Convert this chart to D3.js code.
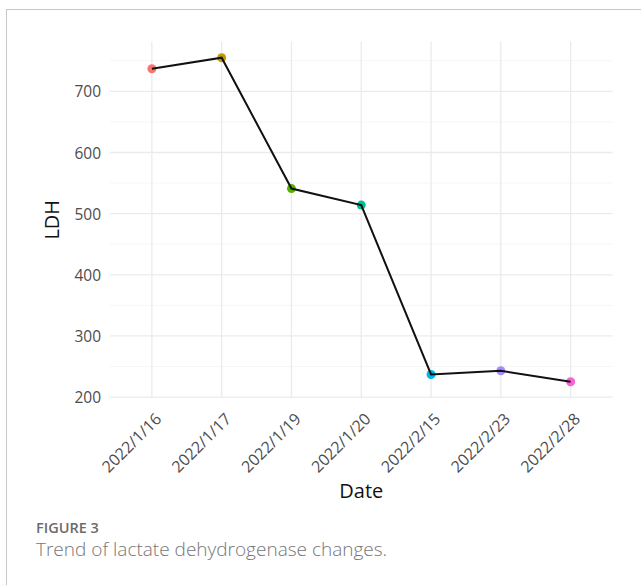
<!DOCTYPE html>
<html><head><meta charset="utf-8">
<script src="https://cdn.jsdelivr.net/npm/d3@7"></script>
<style>
html,body{margin:0;padding:0;background:#fff;}
svg{display:block;font-family:"Open Sans",sans-serif;}
</style></head>
<body>
<script>
const dates = ["2022/1/16","2022/1/17","2022/1/19","2022/1/20","2022/2/15","2022/2/23","2022/2/28"];
const ldh = [737, 755, 541, 514, 237, 243, 225];
const pointColors = ["#F8766D","#C49A00","#53B400","#00C094","#00B6EB","#A58AFF","#FB61D7"];
const yTicks = [200, 300, 400, 500, 600, 700];
const yMinor = [250, 350, 450, 550, 650, 750];

(function () {
const W = 641, H = 585;
const svg = d3.select("body").append("svg").attr("width", W).attr("height", H);

// frame
svg.append("line").attr("x1",7).attr("x2",W).attr("y1",9.5).attr("y2",9.5).attr("stroke","#c8c8c8").attr("stroke-width",1);
svg.append("line").attr("x1",6.5).attr("x2",6.5).attr("y1",9).attr("y2",H).attr("stroke","#c8c8c8").attr("stroke-width",1);

const pLeft = 110, pRight = 612.5, pTop = 41.5, pBottom = 398;
const dmin = d3.min(ldh), dmax = d3.max(ldh), pad = (dmax - dmin) * 0.05;
const y = d3.scaleLinear().domain([dmin - pad, dmax + pad]).range([pBottom, pTop]);
const x = d3.scalePoint().domain(dates).range([pLeft, pRight]).padding(0.6);

const g = svg.append("g");
g.selectAll(".minor").data(yMinor).join("line")
  .attr("x1", pLeft).attr("x2", pRight)
  .attr("y1", d => y(d)).attr("y2", d => y(d))
  .attr("stroke", "#f4f4f4").attr("stroke-width", 0.8);
g.selectAll(".majorY").data(yTicks).join("line")
  .attr("x1", pLeft).attr("x2", pRight)
  .attr("y1", d => y(d)).attr("y2", d => y(d))
  .attr("stroke", "#ebebeb").attr("stroke-width", 1.3);
g.selectAll(".majorX").data(dates).join("line")
  .attr("x1", d => x(d)).attr("x2", d => x(d))
  .attr("y1", pTop).attr("y2", pBottom)
  .attr("stroke", "#ebebeb").attr("stroke-width", 1.3);

const yAxis = d3.axisLeft(y).tickValues(yTicks).tickSize(0).tickPadding(0);
const ya = svg.append("g").attr("transform", `translate(${pLeft - 9},0)`).call(yAxis);
ya.select(".domain").remove();
ya.selectAll("text").attr("font-size", 15.5).attr("fill", "#4d4d4d").attr("font-family", "Open Sans").attr("dy", "0.36em");

const xAxis = d3.axisBottom(x).tickSize(0).tickPadding(0);
const xa = svg.append("g").attr("transform", `translate(0,${pBottom})`).call(xAxis);
xa.select(".domain").remove();
xa.selectAll("text")
  .attr("font-size", 16).attr("fill", "#4d4d4d").attr("font-family", "Open Sans")
  .attr("text-anchor", "end").attr("dy", null).attr("y", null)
  .attr("transform", "translate(10,22) rotate(-45)");

svg.selectAll(".pt").data(dates).join("circle")
  .attr("cx", d => x(d)).attr("cy", (d, i) => y(ldh[i]))
  .attr("r", 4.5).attr("fill", (d, i) => pointColors[i]);

const line = d3.line().x(d => x(d)).y((d, i) => y(ldh[i]));
svg.append("path").datum(dates).attr("d", line)
  .attr("fill", "none").attr("stroke", "#111").attr("stroke-width", 2);

svg.append("text").attr("x", (pLeft + pRight) / 2).attr("y", 498)
  .attr("text-anchor", "middle").attr("font-size", 20).attr("fill", "#111").text("Date");
svg.append("text").attr("transform", `translate(59,${(pTop + pBottom) / 2}) rotate(-90)`)
  .attr("text-anchor", "middle").attr("font-size", 20).attr("fill", "#111").text("LDH");

svg.append("text").attr("x", 36).attr("y", 533).attr("font-size", 14.5)
  .attr("font-weight", 600).attr("fill", "#6b6b6b").text("FIGURE 3");
svg.append("text").attr("x", 36).attr("y", 555.5).attr("font-size", 19)
  .attr("font-weight", 300).attr("fill", "#767676").text("Trend of lactate dehydrogenase changes.");
})();
</script>
</body></html>
